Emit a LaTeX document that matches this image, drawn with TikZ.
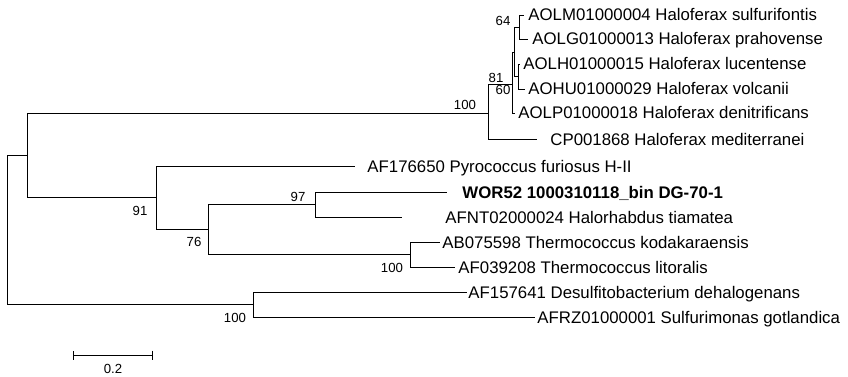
\documentclass[tikz,border=0pt]{standalone}
\usepackage{fontspec}
\setmainfont{Liberation Sans}
\usepackage{tikz}
\usetikzlibrary{arrows.meta}

\begin{document}
\begin{tikzpicture}[x=1pt, y=-1pt, line width=0.9pt,
    leaf/.style={anchor=base west, inner sep=0pt, yshift=-6pt, font=\fontsize{16.8}{18}\selectfont},
    boot/.style={inner sep=0pt, font=\fontsize{13.2}{14}\selectfont}]
    \useasboundingbox (0,0) rectangle (848,377);

    % inner nodes
    \coordinate (root) at (7,229.5);
    \coordinate (nA) at (27,155);
    \coordinate (nHfx) at (488,113);
    \coordinate (n81) at (512,84);
    \coordinate (nX) at (514.5,52);
    \coordinate (n64) at (519,27);
    \coordinate (n60) at (518,76.5);
    \coordinate (n91) at (156,197);
    \coordinate (n76) at (208,229);
    \coordinate (n97) at (315,204.5);
    \coordinate (nTc) at (410,254);
    \coordinate (nDes) at (253,304.5);

    % branch tips
    \coordinate (eAOLM) at (524,15);
    \coordinate (eAOLG) at (528,39);
    \coordinate (eAOLH) at (520,64);
    \coordinate (eAOHU) at (525,89);
    \coordinate (eAOLP) at (515,113);
    \coordinate (eCP) at (537,139);
    \coordinate (ePyro) at (355,166);
    \coordinate (eWOR) at (447,192);
    \coordinate (eAFNT) at (402,217);
    \coordinate (eAB) at (440,242);
    \coordinate (eAF039) at (455,267);
    \coordinate (eAF157) at (467,292);
    \coordinate (eAFRZ) at (535,317);

    % taxa
    \node[leaf] (tAOLM) at (528,15) {AOLM01000004 Haloferax sulfurifontis};
    \node[leaf] (tAOLG) at (532,39) {AOLG01000013 Haloferax prahovense};
    \node[leaf] (tAOLH) at (523,64) {AOLH01000015 Haloferax lucentense};
    \node[leaf] (tAOHU) at (528,89) {AOHU01000029 Haloferax volcanii};
    \node[leaf] (tAOLP) at (518,113) {AOLP01000018 Haloferax denitrificans};
    \node[leaf] (tCP) at (550,139) {CP001868 Haloferax mediterranei};
    \node[leaf] (tPyro) at (367,166) {AF176650 Pyrococcus furiosus H-II};
    \node[leaf, font=\fontsize{16.8}{18}\selectfont\bfseries] (tWOR) at (462,192) {WOR52 1000310118\_bin DG-70-1};
    \node[leaf] (tAFNT) at (445,217) {AFNT02000024 Halorhabdus tiamatea};
    \node[leaf] (tAB) at (442,242) {AB075598 Thermococcus kodakaraensis};
    \node[leaf] (tAF039) at (458,267) {AF039208 Thermococcus litoralis};
    \node[leaf] (tAF157) at (468,292) {AF157641 Desulfitobacterium dehalogenans};
    \node[leaf] (tAFRZ) at (537,317) {AFRZ01000001 Sulfurimonas gotlandica};

    % branches
    \draw (root) |- (nA);
    \draw (root) |- (nDes);
    \draw (nA) |- (nHfx);
    \draw (nA) |- (n91);
    \draw (nHfx) |- (n81);
    \draw (nHfx) |- (eCP);
    \draw (n81) |- (nX);
    \draw (n81) |- (eAOLP);
    \draw (nX) |- (n64);
    \draw (nX) |- (n60);
    \draw (n64) |- (eAOLM);
    \draw (n64) |- (eAOLG);
    \draw (n60) |- (eAOLH);
    \draw (n60) |- (eAOHU);
    \draw (n91) |- (ePyro);
    \draw (n91) |- (n76);
    \draw (n76) |- (n97);
    \draw (n76) |- (nTc);
    \draw (n97) |- (eWOR);
    \draw (n97) |- (eAFNT);
    \draw (nTc) |- (eAB);
    \draw (nTc) |- (eAF039);
    \draw (nDes) |- (eAF157);
    \draw (nDes) |- (eAFRZ);

    % bootstrap values
    \node[boot] (b64) at (503,21) {64};
    \node[boot] (b81) at (496,78) {81};
    \node[boot] (b60) at (503,90) {60};
    \node[boot] (bHfx) at (465,105) {100};
    \node[boot] (b91) at (140,211) {91};
    \node[boot] (b76) at (194,242) {76};
    \node[boot] (b97) at (298,197) {97};
    \node[boot] (bTc) at (392,268) {100};
    \node[boot] (bDes) at (235,318) {100};

    % scale bar
    \coordinate (sbL) at (73,355);
    \coordinate (sbR) at (153,355);
    \draw[{Bar[width=9pt]}-{Bar[width=9pt]}] (sbL) -- (sbR);
    \node[boot] (sb) at (113,369) {0.2};
\end{tikzpicture}
\end{document}
